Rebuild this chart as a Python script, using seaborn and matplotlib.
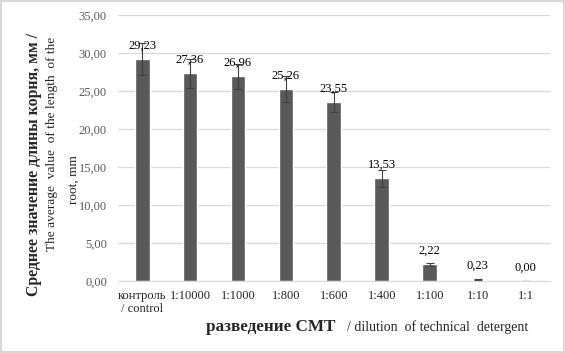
import numpy as np
import pandas as pd
import matplotlib
matplotlib.use("Agg")
import matplotlib.pyplot as plt
import seaborn as sns

# данные с картинки
categories = ["контроль\n/ control", "1:10000", "1:1000", "1:800", "1:600", "1:400", "1:100", "1:10", "1:1"]
values = [29.23, 27.36, 26.96, 25.26, 23.55, 13.53, 2.22, 0.23, 0.00]
errors = [2.1, 1.9, 1.65, 1.75, 1.3, 1.1, 0.25, 0.05, 0.0]
yticks = [0, 5, 10, 15, 20, 25, 30, 35]

sns.set_style("white")
serif = ["Liberation Serif", "DejaVu Serif"]
plt.rcParams["font.family"] = serif

df = pd.DataFrame({"cat": categories, "val": values})

fig = plt.figure(figsize=(5.65, 3.53), dpi=100)
fig.patch.set_edgecolor("#d9d9d9")
fig.patch.set_linewidth(1.5)
ax = fig.add_axes([0.209, 0.203, 0.764, 0.7545])

ax.set_axisbelow(True)
ax.yaxis.grid(True, color="#d9d9d9", linewidth=0.9)
sns.barplot(data=df, x="cat", y="val", color="#595959", width=0.31,
            saturation=1, ax=ax)
ax.errorbar(np.arange(len(values)), values, yerr=errors, fmt="none",
            ecolor="#404040", elinewidth=0.8, capsize=3, capthick=0.8)

for i, v in enumerate(values):
    ax.annotate(f"{v:.2f}".replace(".", ","), (i, v), xytext=(0, 5.5),
                textcoords="offset points", ha="center", va="bottom",
                fontsize=9, color="black", family=serif)

ax.set_ylim(0, 35)
ax.set_xlim(-0.5, len(values) - 0.5)
ax.set_yticks(yticks)
ax.set_yticklabels([f"{t:.2f}".replace(".", ",") for t in yticks],
                   fontsize=9, color="#595959", family=serif)
ax.set_xticks(range(len(categories)))
ax.set_xticklabels(categories, fontsize=9, family=serif)
ax.tick_params(axis="x", length=0, pad=6)
ax.tick_params(axis="y", length=0, pad=8)
for s in ["top", "right", "left"]:
    ax.spines[s].set_visible(False)
ax.spines["bottom"].set_color("#d9d9d9")
ax.set_xlabel("")
ax.set_ylabel("")

# подписи осей
fig.text(0.060, 0.535, "Среднее значение длины корня, мм /", rotation=90,
         ha="center", va="center", fontsize=11.4, fontweight="bold")
fig.text(0.092, 0.592, "The average  value  of the length  of the", rotation=90,
         ha="center", va="center", fontsize=9.6)
fig.text(0.131, 0.49, "root, mm", rotation=90,
         ha="center", va="center", fontsize=9.6)

fig.text(0.365, 0.074, "разведение СМТ", ha="left", va="center",
         fontsize=12.3, fontweight="bold")
fig.text(0.614, 0.074, "/ dilution  of technical  detergent", ha="left",
         va="center", fontsize=10)

plt.savefig("out.png", dpi=100, edgecolor=fig.get_edgecolor())
